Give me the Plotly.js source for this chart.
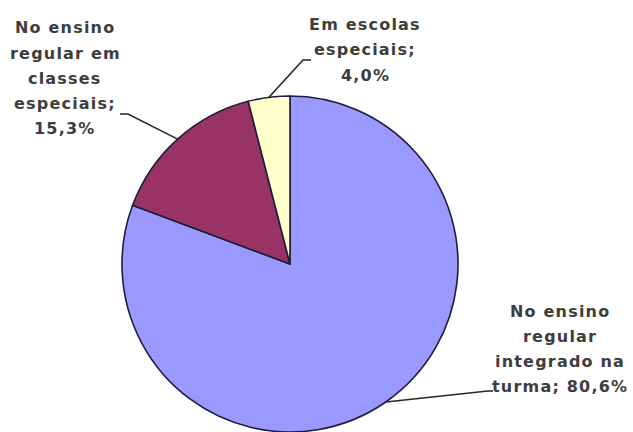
<!DOCTYPE html>
<html>
<head>
<meta charset="utf-8">
<script src="https://cdn.plot.ly/plotly-3.0.1.min.js"></script>
<style>
  html, body { margin: 0; padding: 0; background: #fff; overflow: hidden; }
  #chart { width: 633px; height: 432px; }
  .annotation-text { letter-spacing: 1.2px; }
</style>
</head>
<body>
<div id="chart"></div>
<script>
// ---- data ----
const categories = [
  "No ensino regular integrado na turma",
  "No ensino regular em classes especiais",
  "Em escolas especiais"
];
const values = [80.6, 15.3, 4.0];
const colors = ["#9999FF", "#993366", "#FFFFCC"];
// how each category label is broken into lines
const categoryLines = [
  ["No ensino", "regular", "integrado na", "turma"],
  ["No ensino", "regular em", "classes", "especiais"],
  ["Em escolas", "especiais"]
];
const valueOnNewLine = [false, true, true];

// ---- layout constants (pixels) ----
const W = 633, H = 432;
const cx = 290, cy = 264, R = 168;
// label block centres and leader elbow / end points
const labelCenter = [[560, 349], [65, 78], [365, 50]];
const leaderElbow = [[488, 391], [128, 114], [303, 60]];
const leaderEnd   = [[493, 391], [120, 114], [311, 60]];
const lineStep = 25;

const px2x = p => p / W;
const py2y = p => 1 - p / H;

const fmt = v => v.toFixed(1).replace('.', ',') + '%';

const total = values.reduce((a, b) => a + b, 0);
let cum = 0;
const annotations = [];
const shapes = [];
values.forEach((v, i) => {
  const mid = (cum + v / 2) / total;
  cum += v;
  const th = 2 * Math.PI * mid;
  const ax = cx + R * Math.sin(th);
  const ay = cy - R * Math.cos(th);
  // build the label lines
  const lines = categoryLines[i].slice();
  if (valueOnNewLine[i]) {
    lines[lines.length - 1] += ';';
    lines.push(fmt(v));
  } else {
    lines[lines.length - 1] += '; ' + fmt(v);
  }
  const [lx, ly] = labelCenter[i];
  const n = lines.length;
  lines.forEach((t, k) => {
    annotations.push({
      xref: 'paper', yref: 'paper',
      x: px2x(lx), y: py2y(ly + (k - (n - 1) / 2) * lineStep),
      xanchor: 'center', yanchor: 'middle',
      text: t, showarrow: false,
      font: { family: 'DejaVu Sans, sans-serif', size: 16, weight: 'bold', color: '#3d3d3d' }
    });
  });
  const [ex, ey] = leaderElbow[i];
  const [fx, fy] = leaderEnd[i];
  shapes.push({
    type: 'path', xref: 'paper', yref: 'paper',
    path: `M ${px2x(ax)} ${py2y(ay)} L ${px2x(ex)} ${py2y(ey)} L ${px2x(fx)} ${py2y(fy)}`,
    line: { color: '#262626', width: 1.6 }
  });
});

const trace = {
  type: 'pie',
  values: values,
  labels: categories,
  sort: false,
  direction: 'clockwise',
  rotation: 0,
  textinfo: 'none',
  hoverinfo: 'none',
  marker: { colors: colors, line: { color: '#1e1e3c', width: 1.6 } },
  domain: { x: [(cx - R) / W, (cx + R) / W], y: [(H - cy - R) / H, (H - cy + R) / H] }
};

Plotly.newPlot('chart', [trace], {
  width: W, height: H,
  margin: { l: 0, r: 0, t: 0, b: 0, pad: 0 },
  showlegend: false,
  paper_bgcolor: '#ffffff',
  plot_bgcolor: '#ffffff',
  annotations: annotations,
  shapes: shapes
}, { staticPlot: true });
</script>
</body>
</html>
